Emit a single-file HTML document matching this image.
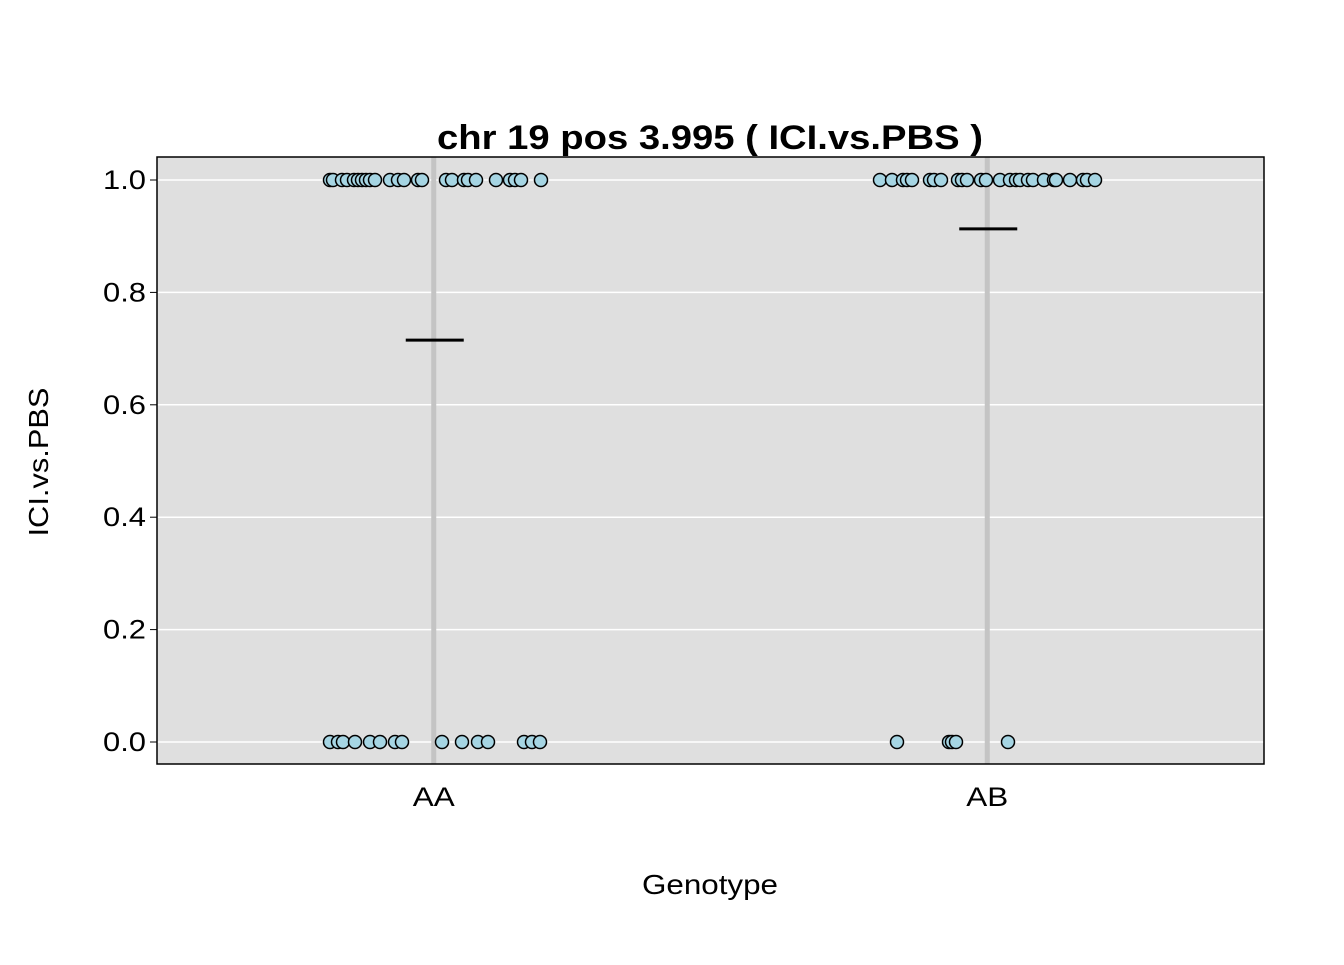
<!DOCTYPE html>
<html><head><meta charset="utf-8"><style>
body{margin:0;background:#fff;}
svg text{font-family:"Liberation Sans",Arial,sans-serif;}
</style></head><body>
<svg width="1344" height="960">
<g id="g"></g>
</svg>
<script>
const categories=["AA","AB"];
const aaOnesX=[330,333,342,347,354,358,362,366,370,375,390,398,404,418,422,446,452,464,468,476,496,510,515,521,541];
const aaZerosX=[330,338,343,355,370,380,395,402,442,462,478,488,524,532,540];
const abOnesX=[880,892,903,907,912,930,934,941,958,962,967,981,986,1000,1010,1016,1020,1028,1033,1044,1054,1056,1070,1083,1087,1095];
const abZerosX=[897,949,952,956,1008];
const means=[0.715,0.913];
const yTicks=[0,0.2,0.4,0.6,0.8,1.0];
const L=157,R=1264,T=157,B=764;
const sx=v=>L+(v-0.5)*553.5;
const sy=v=>742-v*562;
const g=document.getElementById('g');
const NS="http://www.w3.org/2000/svg";
function mk(t,a,txt){const e=document.createElementNS(NS,t);for(const k in a)e.setAttribute(k,a[k]);if(txt!==undefined)e.textContent=txt;g.appendChild(e);return e;}
let e=mk('rect',{x:L,y:T,width:R-L,height:B-T,fill:'#dfdfdf'});


yTicks.forEach(v=>{
 let l=mk('line',{x1:L,x2:R,y1:sy(v),y2:sy(v),stroke:'#fff','stroke-width':1.5});
 
 
 let t=mk('text',{x:146,y:sy(v)+9,'text-anchor':'end','font-size':27,textLength:43,lengthAdjust:'spacingAndGlyphs'},v.toFixed(1));
 
 
 let k=mk('line',{x1:150,x2:L,y1:sy(v),y2:sy(v),stroke:'#000'});
 
 
});
categories.forEach((c,i)=>{
 let l=mk('line',{x1:sx(i+1),x2:sx(i+1),y1:T,y2:B,stroke:'#c4c4c4','stroke-width':5});
 
 
 let t=mk('text',{x:sx(i+1),y:806,'text-anchor':'middle','font-size':27,textLength:42,lengthAdjust:'spacingAndGlyphs'},c);
 
 
});
function pts(xs,val,name){xs.forEach(x=>{
 let c=mk('circle',{cx:x,cy:sy(val),r:6.5,fill:'#a6d5e3',stroke:'#000','stroke-width':1.5});
 
 
});}
pts(aaOnesX,1,'point-aa');pts(aaZerosX,0,'point-aa');
pts(abOnesX,1,'point-ab');pts(abZerosX,0,'point-ab');
means.forEach((m,i)=>{
 let l=mk('line',{x1:sx(i+1)-28,x2:sx(i+1)+30,y1:sy(m),y2:sy(m),stroke:'#000','stroke-width':3});
 
 
});
e=mk('rect',{x:L,y:T,width:R-L,height:B-T,fill:'none',stroke:'#000','stroke-width':1.5});


e=mk('text',{x:710,y:149,'text-anchor':'middle','font-size':34,'font-weight':'bold',textLength:546,lengthAdjust:'spacingAndGlyphs'},'chr 19 pos 3.995 ( ICI.vs.PBS )');


e=mk('text',{x:710,y:894,'text-anchor':'middle','font-size':28,textLength:136,lengthAdjust:'spacingAndGlyphs'},'Genotype');


e=mk('text',{x:0,y:0,'text-anchor':'middle','font-size':28,textLength:149,lengthAdjust:'spacingAndGlyphs',transform:'translate(48,462) rotate(-90)'},'ICI.vs.PBS');


</script>
</body></html>
